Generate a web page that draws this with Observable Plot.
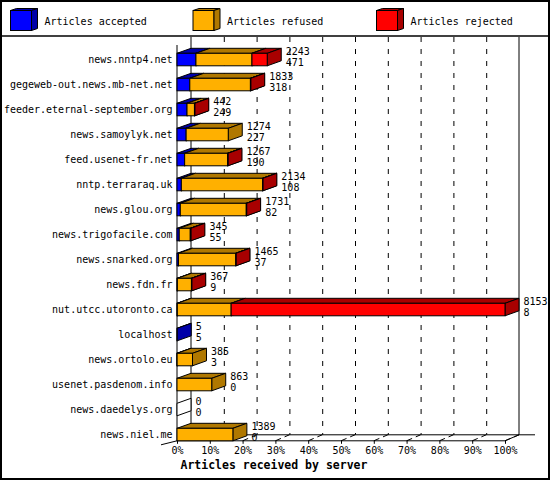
<!DOCTYPE html>
<html><head><meta charset="utf-8">
<script src="https://cdn.jsdelivr.net/npm/d3@7"></script>
<script src="https://cdn.jsdelivr.net/npm/@observablehq/plot@0.6"></script>
<style>body{margin:0;background:#fff}#chart svg{display:block}</style>
</head><body><div id="chart"></div>
<script>
const servers = ["news.nntp4.net","gegeweb-out.news.mb-net.net","feeder.eternal-september.org","news.samoylyk.net","feed.usenet-fr.net","nntp.terraraq.uk","news.glou.org","news.trigofacile.com","news.snarked.org","news.fdn.fr","nut.utcc.utoronto.ca","localhost","news.ortolo.eu","usenet.pasdenom.info","news.daedelys.org","news.niel.me"];
const totals   = [2243, 1833, 442, 1274, 1267, 2134, 1731, 345, 1465, 367, 8153, 5, 385, 863, 0, 1389];
const accepted = [471, 318, 249, 227, 190, 108, 82, 55, 37, 9, 8, 5, 3, 0, 0, 0];
const refused  = [1392, 1507, 185, 1047, 1067, 2019, 1640, 275, 1423, 350, 1338, 0, 382, 863, 0, 1389];
const rejected = [380, 8, 8, 0, 10, 7, 9, 15, 5, 8, 6807, 0, 0, 0, 0, 0];
const seriesNames = ["Articles accepted", "Articles refused", "Articles rejected"];
const seriesFront = ["#0000ff", "#ffb000", "#ff0000"];
const seriesShade = ["#0000a8", "#b07800", "#a80000"];
const tickPercents = [0, 10, 20, 30, 40, 50, 60, 70, 80, 90, 100];
const axisTitle = "Articles received by server";

const DX = 14, DY = -5, FDY = -6;
const maxTotal = d3.max(totals);
const series = [accepted, refused, rejected];
const segments = [];
servers.forEach((s, i) => {
  let x = 0;
  series.forEach((vals, k) => {
    const v = vals[i];
    if (v > 0) segments.push({server: s, k, x1: x, x2: x + v});
    x += v;
  });
});
const tickValues = tickPercents.map(p => p / 100 * maxTotal);

function bw(scales) {
  const y = scales.y;
  if (y && typeof y.bandwidth === "function") return y.bandwidth();
  if (scales.scales && scales.scales.y && scales.scales.y.bandwidth != null) return scales.scales.y.bandwidth;
  return 12.5;
}
const pts = a => a.map(p => p.join(",")).join(" ");

function frameMark(index, scales, values, dim) {
  const g = d3.create("svg:g").attr("fill", "none").attr("stroke", "black");
  const x = scales.x;
  const bottom = dim.height - dim.marginBottom;
  const x0 = x(0), x100 = x(maxTotal);
  g.append("rect").attr("x", 1).attr("y", 1).attr("width", dim.width - 2).attr("height", dim.height - 2).attr("stroke-width", 2);
  g.append("line").attr("x1", 0).attr("x2", dim.width).attr("y1", 36).attr("y2", 36).attr("stroke-width", 1.5);
  // legend
  const legendX = [10.5, 193, 376.5];
  seriesNames.forEach((name, k) => {
    const lx = legendX[k], ly = 10.5, w = 21, h = 20, ddx = 6, ddy = -2;
    g.append("rect").attr("x", lx).attr("y", ly).attr("width", w).attr("height", h).attr("fill", seriesFront[k]);
    g.append("polygon").attr("points", pts([[lx, ly], [lx + w, ly], [lx + w + ddx, ly + ddy], [lx + ddx, ly + ddy]])).attr("fill", seriesShade[k]);
    g.append("polygon").attr("points", pts([[lx + w, ly], [lx + w, ly + h], [lx + w + ddx, ly + h + ddy], [lx + w + ddx, ly + ddy]])).attr("fill", seriesShade[k]);
    g.append("text").attr("x", lx + 34).attr("y", 24.5).attr("fill", "black").attr("stroke", "none").attr("text-anchor", "start").text(name);
  });
  // walls
  g.append("line").attr("x1", x0 + DX).attr("x2", x0 + DX).attr("y1", 37).attr("y2", bottom + FDY);
  g.append("line").attr("x1", x100 + DX).attr("x2", x100 + DX).attr("y1", 37).attr("y2", bottom + FDY);
  g.append("line").attr("x1", x0).attr("x2", x0).attr("y1", 45).attr("y2", bottom);
  g.append("line").attr("x1", x0 + DX).attr("x2", x100 + DX + 16).attr("y1", bottom + FDY).attr("y2", bottom + FDY);
  g.append("polyline").attr("points", pts([[x0 - 16, bottom + 4], [x0, bottom], [x100, bottom], [x100 + DX, bottom + FDY]]));
  tickValues.forEach(v => {
    const xv = x(v);
    g.append("line").attr("x1", xv).attr("y1", bottom).attr("x2", xv + DX).attr("y2", bottom + FDY).attr("stroke-dasharray", "6,4");
  });
  return g.node();
}

function extrusionMark(index, scales) {
  const x = scales.x, y = scales.y, h = bw(scales);
  const g = d3.create("svg:g").attr("stroke", "black").attr("stroke-width", 1);
  servers.forEach((s, i) => {
    if (totals[i] === 0) {
      const X = x(0), T = y(s), B = T + h;
      g.append("polygon").attr("fill", "white").attr("points", pts([[X, T], [X, B], [X + DX, B + DY], [X + DX, T + DY]]));
    }
  });
  for (const d of segments) {
    const X1 = x(d.x1), X2 = x(d.x2), T = y(d.server), B = T + h;
    g.append("polygon").attr("fill", seriesShade[d.k]).attr("points", pts([[X1, T], [X2, T], [X2 + DX, T + DY], [X1 + DX, T + DY]]));
    g.append("polygon").attr("fill", seriesShade[d.k]).attr("points", pts([[X2, T], [X2, B], [X2 + DX, B + DY], [X2 + DX, T + DY]]));
  }
  return g.node();
}

const chart = Plot.plot({
  width: 550,
  height: 480,
  marginLeft: 177,
  marginRight: 45,
  marginTop: 43,
  marginBottom: 39.2,
  style: {fontFamily: "'DejaVu Sans Mono', monospace", fontSize: "10px", background: "white", color: "black"},
  x: {domain: [0, maxTotal]},
  y: {type: "band", domain: servers, range: [40.8, 453.3], padding: 0.5, round: false},
  color: {type: "identity"},
  marks: [
    frameMark,
    Plot.ruleX(tickValues.slice(1, -1), {dx: DX, dy: FDY, stroke: "black", strokeDasharray: "5,7"}),
    extrusionMark,
    Plot.barX(segments, {x1: "x1", x2: "x2", y: "server", fill: d => seriesFront[d.k], stroke: "black", strokeWidth: 1}),
    Plot.text(servers, {x: (d, i) => totals[i], y: d => d, text: (d, i) => String(totals[i]), dx: DX + 4, dy: -5.3, lineAnchor: "bottom", textAnchor: "start", fill: "black"}),
    Plot.text(servers, {x: (d, i) => totals[i], y: d => d, text: (d, i) => String(accepted[i]), dx: DX + 4, dy: 6.2, lineAnchor: "bottom", textAnchor: "start", fill: "black"}),
    Plot.axisY({tickSize: 0, tickPadding: 5, label: null}),
    Plot.axisX(tickValues, {tickFormat: d => Math.round(d / maxTotal * 100) + "%", tickSize: 3, tickPadding: 3, label: null}),
    Plot.text([axisTitle], {frameAnchor: "bottom-left", dx: 3, dy: 28, textAnchor: "start", fontWeight: "bold", fontSize: 11.5, fill: "black"})
  ]
});
document.getElementById("chart").appendChild(chart);
</script>
</body></html>
